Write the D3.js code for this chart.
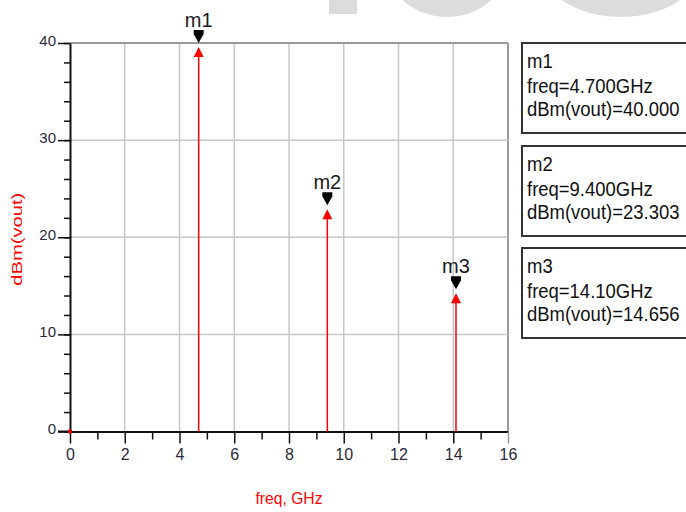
<!DOCTYPE html>
<html>
<head>
<meta charset="utf-8">
<script src="https://cdn.jsdelivr.net/npm/d3@7"></script>
<style>
  body { margin: 0; background: #fff; }
  svg { display: block; }
  text { font-family: "Liberation Sans Narrow", "Arial Narrow", "Liberation Sans", sans-serif; }
</style>
</head>
<body>
<svg id="chart" width="686" height="512"></svg>
<script>
// spectrum lines (freq in GHz, dBm(vout))
const freqs = [0, 4.7, 9.4, 14.1]
const power = [0, 40.000, 23.303, 14.656]

// markers
const markerNames = ["m1", "m2", "m3"]
const markerFreq = [4.700, 9.400, 14.10]
const markerVal = [40.000, 23.303, 14.656]
const markerFreqText = ["4.700GHz", "9.400GHz", "14.10GHz"]
const markerValText = ["40.000", "23.303", "14.656"]

const xTicks = [0, 2, 4, 6, 8, 10, 12, 14, 16]
const yTicks = [0, 10, 20, 30, 40]

const svg = d3.select("#chart")

// light grey watermark shapes at the top edge
svg.append("rect").attr("x", 329).attr("y", 0).attr("width", 28).attr("height", 14).attr("fill", "#dcdcdc")
svg.append("ellipse").attr("cx", 447).attr("cy", -35).attr("rx", 60).attr("ry", 52).attr("fill", "#dcdcdc")
svg.append("ellipse").attr("cx", 621).attr("cy", -35).attr("rx", 80).attr("ry", 52).attr("fill", "#dcdcdc")

const x = d3.scaleLinear().domain([0, 16]).range([70, 508])
const y = d3.scaleLinear().domain([0, 40]).range([431.5, 43])

// grid
const grid = svg.append("g")
grid.selectAll(".vg").data(xTicks.slice(1))
  .enter().append("line")
  .attr("x1", d => x(d)).attr("x2", d => x(d))
  .attr("y1", y(0)).attr("y2", y(40))
  .attr("stroke", d => d === 16 ? "#9a9a9a" : "#c8c8c8")
  .attr("stroke-width", d => d === 16 ? 2 : 1.5)
grid.selectAll(".hg").data(yTicks.slice(1))
  .enter().append("line")
  .attr("x1", x(0)).attr("x2", x(16))
  .attr("y1", d => y(d)).attr("y2", d => y(d))
  .attr("stroke", d => d === 40 ? "#9a9a9a" : "#c8c8c8")
  .attr("stroke-width", d => d === 40 ? 2 : 1.5)

// y axis: minor + major
svg.append("g")
  .attr("transform", `translate(${x(0)},0)`)
  .call(d3.axisLeft(y).tickValues(d3.range(0, 41, 2)).tickSize(6).tickSizeOuter(0).tickFormat(""))
  .call(g => g.select(".domain").attr("stroke", "#111").attr("stroke-width", 2))
  .call(g => g.selectAll(".tick line").attr("stroke", "#111").attr("stroke-width", 1.5))

svg.append("g")
  .attr("transform", `translate(${x(0)},0)`)
  .call(d3.axisLeft(y).tickValues(yTicks).tickSize(12).tickPadding(2).tickSizeOuter(0))
  .call(g => g.select(".domain").remove())
  .call(g => g.selectAll(".tick line").attr("stroke", "#111").attr("stroke-width", 1.5))
  .call(g => g.selectAll(".tick text")
    .attr("dy", "0.15em")
    .attr("fill", "#2a2a3a")
    .style("font-size", "15px"))

// x axis: minor + major
svg.append("g")
  .attr("transform", `translate(0,${y(0)})`)
  .call(d3.axisBottom(x).tickValues(d3.range(1, 16, 2)).tickSize(8).tickSizeOuter(0).tickFormat(""))
  .call(g => g.select(".domain").attr("stroke", "#111").attr("stroke-width", 2))
  .call(g => g.selectAll(".tick line").attr("stroke", "#111").attr("stroke-width", 1.5))

svg.append("g")
  .attr("transform", `translate(0,${y(0)})`)
  .call(d3.axisBottom(x).tickValues(xTicks).tickSize(12).tickPadding(5).tickSizeOuter(0))
  .call(g => g.select(".domain").remove())
  .call(g => g.selectAll(".tick line").attr("stroke", d => d === 16 ? "#9a9a9a" : "#111").attr("stroke-width", 1.5))
  .call(g => g.selectAll(".tick text")
    .attr("fill", "#2a2a3a")
    .style("font-size", "16px"))

// extend x axis line to the left like the reference
svg.append("line")
  .attr("x1", x(0) - 12).attr("x2", x(0))
  .attr("y1", y(0)).attr("y2", y(0))
  .attr("stroke", "#111").attr("stroke-width", 2)

// axis titles
svg.append("text")
  .attr("transform", `translate(22,${(y(0) + y(40)) / 2 + 2}) rotate(-90)`)
  .attr("text-anchor", "middle")
  .attr("fill", "#ff0000")
  .attr("textLength", 93)
  .attr("lengthAdjust", "spacingAndGlyphs")
  .style("font-size", "15px")
  .text("dBm(vout)")

svg.append("text")
  .attr("x", (x(0) + x(16)) / 2)
  .attr("y", 504)
  .attr("text-anchor", "middle")
  .attr("fill", "#ff0000")
  .attr("textLength", 67)
  .attr("lengthAdjust", "spacingAndGlyphs")
  .style("font-size", "16px")
  .text("freq, GHz")

// spectrum stems
const data = freqs.map((f, i) => ({ f: f, v: power[i] }))
svg.append("g").selectAll("line")
  .data(data.filter(d => d.v > 0))
  .enter().append("line")
  .attr("x1", d => x(d.f)).attr("x2", d => x(d.f))
  .attr("y1", y(0)).attr("y2", d => y(d.v) + 12)
  .attr("stroke", "#ff0000")
  .attr("stroke-width", 1.5)

// red arrow heads at the top of each stem
svg.append("g").selectAll("path")
  .data(data.filter(d => d.v > 0))
  .enter().append("path")
  .attr("d", d => {
    const cx = x(d.f), cy = y(d.v)
    return `M${cx},${cy + 4} L${cx + 5},${cy + 14} L${cx - 5},${cy + 14} Z`
  })
  .attr("fill", "#ff0000")

// origin point
svg.append("circle")
  .attr("cx", x(freqs[0])).attr("cy", y(power[0]))
  .attr("r", 2.2).attr("fill", "#e00000")

// markers
const markers = markerNames.map((n, i) => ({ n: n, f: markerFreq[i], v: markerVal[i] }))
const mk = svg.append("g").selectAll("g").data(markers).enter().append("g")
mk.append("path")
  .attr("d", d => {
    const cx = x(d.f), cy = y(d.v)
    return `M${cx - 5},${cy - 13} L${cx + 5},${cy - 13} L${cx + 5},${cy - 9} L${cx},${cy} L${cx - 5},${cy - 9} Z`
  })
  .attr("fill", "#000")
mk.append("text")
  .attr("x", d => x(d.f))
  .attr("y", d => y(d.v) - 16)
  .attr("text-anchor", "middle")
  .attr("fill", "#1a1a1a")
  .style("font-size", "20px")
  .text(d => d.n)

// marker readout boxes
const boxTop = [43, 146, 248]
const box = svg.append("g").selectAll("g").data(markers).enter().append("g")
  .attr("transform", (d, i) => `translate(522,${boxTop[i]})`)
box.append("rect")
  .attr("x", 0).attr("y", 0)
  .attr("width", 200).attr("height", 90)
  .attr("fill", "none")
  .attr("stroke", "#333")
  .attr("stroke-width", 2)

const lines = [
  d => d.n,
  (d, i) => "freq=" + markerFreqText[i],
  (d, i) => "dBm(vout)=" + markerValText[i]
]
const lineY = [25, 50, 73]
lines.forEach((fn, k) => {
  box.append("text")
    .attr("transform", `translate(5,${lineY[k]}) scale(0.88,1)`)
    .style("font-size", "21px")
    .attr("fill", "#111")
    .text(fn)
})
</script>
</body>
</html>
